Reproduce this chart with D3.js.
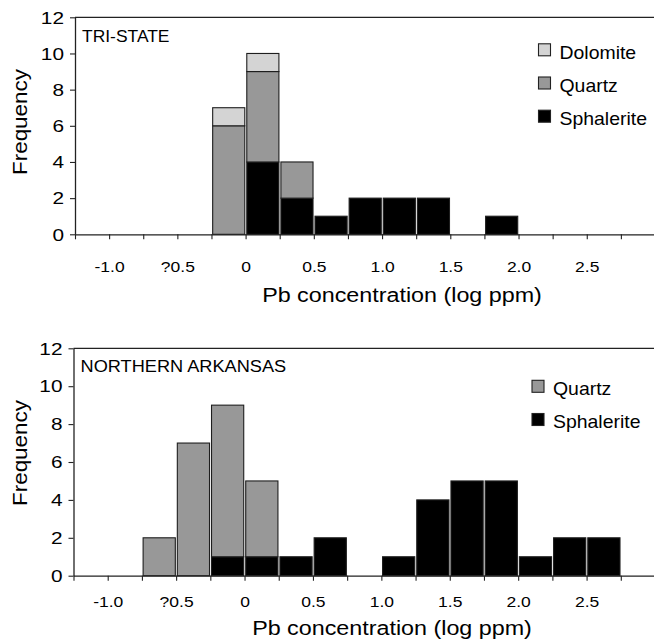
<!DOCTYPE html>
<html>
<head>
<meta charset="utf-8">
<script src="https://cdn.jsdelivr.net/npm/d3@7"></script>
<style>
  html, body { margin: 0; padding: 0; background: #fff; }
  svg { display: block; font-family: "Liberation Sans", Arial, Helvetica, sans-serif; }
</style>
</head>
<body>
<svg id="chart" width="654" height="641"></svg>
<script>
// ---------- data ----------
const binWidth = 0.25;
const seriesNames = ["Sphalerite", "Quartz", "Dolomite"];
const seriesColors = { Sphalerite: "#000000", Quartz: "#989898", Dolomite: "#d4d4d4" };

const triBins       = [-0.25, 0, 0.25, 0.5, 0.75, 1.0, 1.25, 1.5, 1.75];
const triSphalerite = [0, 4, 2, 1, 2, 2, 2, 0, 1];
const triQuartz     = [6, 5, 2, 0, 0, 0, 0, 0, 0];
const triDolomite   = [1, 1, 0, 0, 0, 0, 0, 0, 0];

const arkBins       = [-0.75, -0.5, -0.25, 0, 0.25, 0.5, 0.75, 1.0, 1.25, 1.5, 1.75, 2.0, 2.25, 2.5];
const arkSphalerite = [0, 0, 1, 1, 1, 2, 0, 1, 4, 5, 5, 1, 2, 2];
const arkQuartz     = [2, 7, 8, 4, 0, 0, 0, 0, 0, 0, 0, 0, 0, 0];

const xTickValues = [-1.0, -0.5, 0, 0.5, 1.0, 1.5, 2.0, 2.5];
const xTickLabels = ["-1.0", "?0.5", "0", "0.5", "1.0", "1.5", "2.0", "2.5"];
const yTickValues = [0, 2, 4, 6, 8, 10, 12];
const xTitle = "Pb concentration (log ppm)";
const yTitle = "Frequency";

// ---------- drawing ----------
const svg = d3.select("#chart");

function panel(opts) {
  const g = svg.append("g");
  const x = d3.scaleLinear().domain([-1.25, 3.0]).range([opts.left, opts.right]);
  const y = d3.scaleLinear().domain([0, 12]).range([opts.bottom, opts.top]);

  // stacked data
  const rows = opts.bins.map((b, i) => {
    const r = { bin: b };
    opts.series.forEach(s => { r[s.name] = s.values[i]; });
    return r;
  });
  const keys = opts.series.map(s => s.name);
  const stacked = d3.stack().keys(keys)(rows);

  const layers = g.append("g").selectAll("g").data(stacked).join("g")
    .attr("fill", d => seriesColors[d.key]);
  layers.selectAll("rect").data(d => d.filter(v => v[1] - v[0] > 0)).join("rect")
    .attr("x", d => x(d.data.bin) + 1.2)
    .attr("width", d => x(d.data.bin + binWidth) - x(d.data.bin) - 2)
    .attr("y", d => y(d[1]))
    .attr("height", d => y(d[0]) - y(d[1]))
    .attr("stroke", "#1e1e1e")
    .attr("stroke-width", 1.1);

  // top frame line
  g.append("line")
    .attr("x1", opts.left).attr("x2", 654)
    .attr("y1", y(12)).attr("y2", y(12))
    .attr("stroke", "#222").attr("stroke-width", 1.3);

  // x axis
  const allTicks = d3.range(-5, 12).map(i => i * 0.25);
  const labelFor = v => {
    const idx = xTickValues.findIndex(t => Math.abs(t - v) < 1e-9);
    return idx >= 0 ? xTickLabels[idx] : "";
  };
  const xAxis = g.append("g")
    .attr("transform", `translate(0,${y(0)})`)
    .call(d3.axisBottom(x).tickValues(allTicks).tickFormat(labelFor).tickSize(5).tickSizeOuter(0));
  xAxis.select(".domain").attr("stroke", "#222").attr("stroke-width", 1.3);
  xAxis.selectAll(".tick line").attr("stroke", "#222").attr("stroke-width", 1.1);
  xAxis.selectAll(".tick text")
    .attr("y", 0).attr("dy", 0)
    .attr("fill", "#000")
    .attr("font-size", 14)
    .attr("text-anchor", "middle")
    .attr("transform", `translate(0,${opts.xLabelOffset}) scale(1.25,1)`);

  // y axis
  const yAxis = g.append("g")
    .attr("transform", `translate(${opts.left},0)`)
    .call(d3.axisLeft(y).tickValues(yTickValues).tickFormat(d3.format("d")).tickSize(5).tickSizeOuter(0));
  yAxis.select(".domain").attr("stroke", "#222").attr("stroke-width", 1.3);
  yAxis.selectAll(".tick line").attr("stroke", "#222").attr("stroke-width", 1.1);
  yAxis.selectAll(".tick text")
    .attr("x", 0).attr("dy", "0.36em")
    .attr("fill", "#000")
    .attr("font-size", 16)
    .attr("text-anchor", "end")
    .attr("transform", "translate(-11,0) scale(1.3,1)");

  // axis titles
  g.append("text")
    .attr("transform", `translate(${opts.xTitleX},${opts.xTitleY}) scale(1.11,1)`)
    .attr("text-anchor", "middle")
    .attr("font-size", 21)
    .text(xTitle);
  g.append("text")
    .attr("transform", `translate(26.5,${opts.yTitleY}) rotate(-90) scale(1.07,1)`)
    .attr("text-anchor", "middle")
    .attr("font-size", 21)
    .text(yTitle);

  // panel label
  g.append("text")
    .attr("transform", `translate(${opts.left + 7},${opts.labelY}) scale(1.07,1)`)
    .attr("font-size", opts.labelSize)
    .text(opts.label);

  // legend
  const legendOrder = keys.slice().reverse();
  const lg = g.append("g").selectAll("g").data(legendOrder).join("g")
    .attr("transform", (d, i) => `translate(${opts.legendX},${opts.legendY + i * 33.2})`);
  lg.append("rect")
    .attr("width", 12).attr("height", 12)
    .attr("fill", d => seriesColors[d])
    .attr("stroke", "#222").attr("stroke-width", 1.1);
  lg.append("text")
    .attr("transform", "translate(21,14.8) scale(1.08,1)")
    .attr("font-size", 18)
    .text(d => d);
}

panel({
  left: 75, right: 655, top: 17.3, bottom: 234.3,
  bins: triBins,
  series: [
    { name: "Sphalerite", values: triSphalerite },
    { name: "Quartz", values: triQuartz },
    { name: "Dolomite", values: triDolomite }
  ],
  xLabelOffset: 38, xTitleX: 402, xTitleY: 302, yTitleY: 122,
  label: "TRI-STATE", labelY: 42, labelSize: 16.3,
  legendX: 538.5, legendY: 43.8
});

panel({
  left: 73.5, right: 655, top: 348.3, bottom: 575.7,
  bins: arkBins,
  series: [
    { name: "Sphalerite", values: arkSphalerite },
    { name: "Quartz", values: arkQuartz }
  ],
  xLabelOffset: 31, xTitleX: 392, xTitleY: 635, yTitleY: 453,
  label: "NORTHERN ARKANSAS", labelY: 371.7, labelSize: 17,
  legendX: 532, legendY: 380.3
});
</script>
</body>
</html>
